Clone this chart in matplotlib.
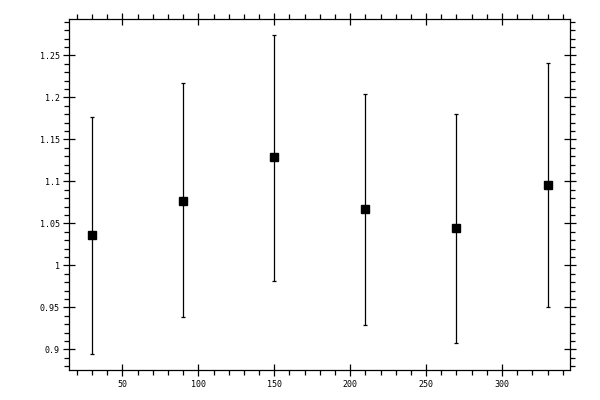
import matplotlib
matplotlib.use("Agg")
import matplotlib.pyplot as plt
from matplotlib.ticker import MultipleLocator, FormatStrFormatter, FuncFormatter

x = [30, 90, 150, 210, 270, 330]
y = [1.0362, 1.0766, 1.1285, 1.0672, 1.0445, 1.0961]
y_upper = [1.1771, 1.2169, 1.2739, 1.2046, 1.1802, 1.2412]
y_lower = [0.8940, 0.9382, 0.9812, 0.9286, 0.9071, 0.9501]

err_low = [yi - lo for yi, lo in zip(y, y_lower)]
err_high = [hi - yi for yi, hi in zip(y, y_upper)]

fig = plt.figure(figsize=(6, 4), dpi=100)
ax = fig.add_axes([0.1155, 0.07425, 0.835, 0.8775])

ax.errorbar(x, y, yerr=[err_low, err_high], fmt='s', color='black',
            markersize=5.2, elinewidth=0.9, capsize=1.6, capthick=0.9,
            ecolor='black')

ax.set_xlim(15, 345)
ax.set_ylim(0.875, 1.293)

ax.xaxis.set_major_locator(MultipleLocator(50))
ax.xaxis.set_minor_locator(MultipleLocator(10))
ax.yaxis.set_major_locator(MultipleLocator(0.05))
ax.yaxis.set_minor_locator(MultipleLocator(0.01))
ax.yaxis.set_major_formatter(FuncFormatter(lambda v, p: ('%.2f' % v).rstrip('0').rstrip('.')))
ax.xaxis.set_major_formatter(FuncFormatter(lambda v, p: '%d' % round(v)))

ax.tick_params(which='major', direction='inout', length=8, width=0.9,
               top=True, right=True, labelsize=6, pad=3)
ax.tick_params(which='minor', direction='out', length=3.5, width=0.9,
               top=True, right=True)
for lab in ax.get_xticklabels() + ax.get_yticklabels():
    lab.set_family('DejaVu Sans Mono')

for s in ax.spines.values():
    s.set_linewidth(0.9)

fig.savefig("out.png", dpi=100)
